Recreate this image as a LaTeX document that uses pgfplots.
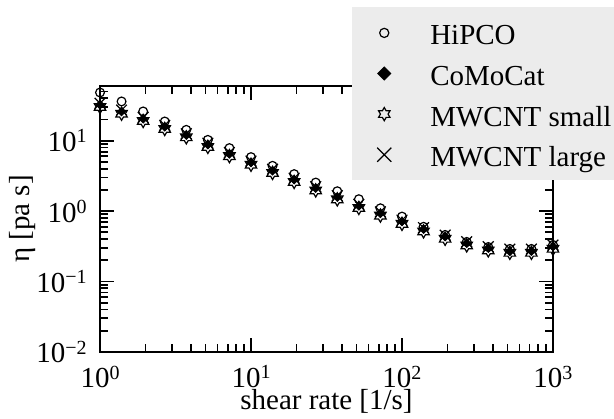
\documentclass[border=0pt]{standalone}
\usepackage{fontspec}
\setmainfont{Liberation Serif}
\usepackage{pgfplots}
\usepackage{pgfplotstable}
\pgfplotsset{compat=1.18}
\usetikzlibrary{plotmarks}

% open six-pointed star, outline only
\pgfdeclareplotmark{hexstar}{%
  \pgfpathmoveto{\pgfpointpolar{90}{\pgfplotmarksize}}%
  \pgfpathlineto{\pgfpointpolar{120}{0.577\pgfplotmarksize}}%
  \pgfpathlineto{\pgfpointpolar{150}{\pgfplotmarksize}}%
  \pgfpathlineto{\pgfpointpolar{180}{0.577\pgfplotmarksize}}%
  \pgfpathlineto{\pgfpointpolar{210}{\pgfplotmarksize}}%
  \pgfpathlineto{\pgfpointpolar{240}{0.577\pgfplotmarksize}}%
  \pgfpathlineto{\pgfpointpolar{270}{\pgfplotmarksize}}%
  \pgfpathlineto{\pgfpointpolar{300}{0.577\pgfplotmarksize}}%
  \pgfpathlineto{\pgfpointpolar{330}{\pgfplotmarksize}}%
  \pgfpathlineto{\pgfpointpolar{0}{0.577\pgfplotmarksize}}%
  \pgfpathlineto{\pgfpointpolar{30}{\pgfplotmarksize}}%
  \pgfpathlineto{\pgfpointpolar{60}{0.577\pgfplotmarksize}}%
  \pgfpathclose
  \pgfusepathqstroke}

\newcommand{\ex}[1]{\raisebox{0.3em}{\fontsize{10}{10}\selectfont #1}}

\pgfplotstableread{
x      hipco  comocat mwsmall mwlarge
1      48.5   32.5    30.2    34.1
1.389  36.2   26.0    24.2    27.3
1.931  26.1   20.5    19.1    21.5
2.683  18.8   15.8    14.7    16.6
3.728  14.3   12.0    11.2    12.6
5.179  10.3   8.8     8.18    9.24
7.197  7.87   6.5     6.05    6.83
10     5.86   4.9     4.56    5.15
13.89  4.41   3.75    3.49    3.94
19.31  3.36   2.8     2.60    2.94
26.83  2.55   2.12    1.97    2.23
37.28  1.92   1.58    1.47    1.66
51.79  1.48   1.19    1.11    1.25
71.97  1.10   0.93    0.865   0.977
100    0.838  0.71    0.66    0.746
138.9  0.60   0.555   0.516   0.583
193.1  0.46   0.435   0.405   0.457
268.3  0.366  0.35    0.326   0.368
372.8  0.31   0.298   0.277   0.313
517.9  0.291  0.268   0.256   0.289
719.7  0.291  0.27    0.256   0.289
1000   0.332  0.314   0.292   0.330
}\data

\begin{document}
\begin{tikzpicture}[font=\fontsize{14.5}{17}\selectfont]
\begin{axis}[
  xmode=log, ymode=log,
  scale only axis, width=226.5pt, height=133pt,
  xmin=1, xmax=1000, ymin=0.01, ymax=60,
  xtick={1,10,100,1000},
  xticklabels={10\ex{0},10\ex{1},10\ex{2},10\ex{3}},
  ytick={0.01,0.1,1,10},
  yticklabels={10\ex{−2},10\ex{−1},10\ex{0},10\ex{1}},
  minor xtick={2,3,4,5,6,7,8,9,20,30,40,50,60,70,80,90,200,300,400,500,600,700,800,900},
  minor ytick={0.02,0.03,0.04,0.05,0.06,0.07,0.08,0.09,0.2,0.3,0.4,0.5,0.6,0.7,0.8,0.9,2,3,4,5,6,7,8,9,20,30,40,50},
  xtick pos=both, ytick pos=both, tick align=inside,
  major tick length=7pt, minor tick length=4pt,
  every tick/.style={black, line width=0.9pt},
  axis line style={line width=0.9pt},
  xticklabel style={inner sep=0pt, yshift=-6.7pt},
  yticklabel style={inner sep=0pt, xshift=-6.5pt},
  xlabel={shear rate [1/s]}, ylabel={η [pa s]},
  xlabel style={inner sep=0pt, yshift=-0.6pt},
  ylabel style={inner sep=0pt},
  legend style={at={(axis description cs:0.556,1.297)}, anchor=north west,
    fill=gray!15, draw=none, inner xsep=11pt, inner ysep=6.25pt, row sep=7.3pt,
    nodes={inner sep=0pt, text height=12.5pt, text depth=0.5pt}},
  legend cell align=left,
  legend image code/.code={\path[draw=none, fill=none] (-5pt,0pt) -- (23pt,0pt);
    \draw[#1] plot coordinates {(0pt,0pt)};},
]
\addplot[only marks, mark=o, mark size=2.2pt, mark options={line width=0.6pt},
  legend image post style={mark size=2.3pt}] table[x=x, y=hipco] {\data};
\addplot[only marks, mark=square*, mark size=1.5pt, mark options={rotate=45, fill=black, line width=0.4pt},
  legend image post style={mark size=2.3pt}] table[x=x, y=comocat] {\data};
\addplot[only marks, mark=hexstar, mark size=3.3pt, mark options={line width=0.6pt}] table[x=x, y=mwsmall] {\data};
\addplot[only marks, mark=x, mark size=3.8pt, mark options={line width=0.6pt},
  legend image post style={mark size=5pt}] table[x=x, y=mwlarge] {\data};
\legend{HiPCO, CoMoCat, MWCNT small, MWCNT large}
\coordinate (bbsw) at (axis description cs:-0.2208,-0.2519);
\coordinate (bbne) at (axis description cs:1.1347,1.3233);
\end{axis}
\pgfresetboundingbox
\path (bbsw) rectangle (bbne);
\end{tikzpicture}
\end{document}
